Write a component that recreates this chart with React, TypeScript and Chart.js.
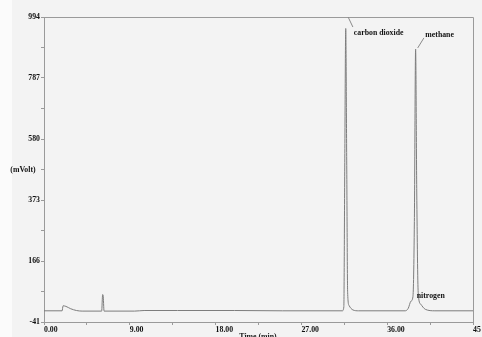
import React, { useEffect, useRef } from "react";
import { Chart, registerables } from "chart.js";

Chart.register(...registerables);

// Chromatogram trace (time in min, signal in mVolt)
const times = [
  0, 1.9, 2.0, 2.3, 2.8, 3.4, 4.0, 6.05, 6.15, 6.2, 6.3, 9.5, 10.5, 14, 20, 25,
  31.3, 31.45, 31.55, 31.65, 31.75, 31.85, 32.0, 32.4, 33.0,
  37.9, 38.2, 38.5, 38.7, 38.85, 38.98, 39.1, 39.25, 39.5, 40.0, 41.0, 45,
];
const signal = [
  -3, -3, 14, 12, 4, -2, -4, -4, 52, 50, -4, -4, -2, -2, -2, -3,
  -3, 10, 500, 955, 520, 60, 15, 0, -3,
  -3, 5, 30, 45, 300, 885, 400, 60, 20, 2, -3, -3,
];

// Axis ticks
const xMajorTicks = [0, 9, 18, 27, 36, 45];
const xMinorTicks = [4.5, 13.5, 22.5, 31.5, 40.5];
const xTickLabels = ["0.00", "9.00", "18.00", "27.00", "36.00", "45"];
const yMajorTicks = [-41, 166, 373, 580, 787, 994];
const yMinorTicks = [62.5, 269.5, 476.5, 683.5, 890.5];
const yTickLabels = ["-41", "166", "373", "580", "787", "994"];

// Peak annotations
const peakNames = ["carbon dioxide", "methane", "nitrogen"];
const peakLabelTimes = [32.5, 40.0, 39.1];
const peakLabelValues = [940, 933, 47];
// leader lines: from (time, value) to (time, value)
const leaderFromTimes = [31.9, 39.2];
const leaderFromValues = [994, 889];
const leaderToTimes = [32.4, 39.85];
const leaderToValues = [960, 923];

const yTitle = "(mVolt)";
const xTitle = "Time (min)";

const FONT = "'Liberation Serif', 'DejaVu Serif', serif";
const FS = 7.8;

export default function App() {
  const ref = useRef<HTMLCanvasElement | null>(null);

  useEffect(() => {
    document.body.style.margin = "0";
    document.body.style.background = "#f3f3f3";
    const canvas = ref.current;
    if (!canvas) return;

    const decor = {
      id: "decor",
      beforeDraw(chart: any) {
        const ctx = chart.ctx;
        ctx.save();
        ctx.fillStyle = "#f3f3f3";
        ctx.fillRect(0, 0, chart.width, chart.height);
        ctx.fillStyle = "#fbfbfb";
        ctx.fillRect(0, 0, 12, chart.height);
        ctx.restore();
      },
      afterDraw(chart: any) {
        const ctx = chart.ctx;
        const { left, right, top, bottom } = chart.chartArea;
        const xs = chart.scales.x;
        const ys = chart.scales.y;
        ctx.save();
        ctx.strokeStyle = "#9a9a9a";
        ctx.lineWidth = 1;
        ctx.beginPath();
        ctx.moveTo(left, top + 0.5);
        ctx.lineTo(right + 0.5, top + 0.5);
        ctx.lineTo(right + 0.5, bottom + 3);
        ctx.stroke();
        // leader lines
        ctx.strokeStyle = "#8a8a8a";
        for (let i = 0; i < leaderFromTimes.length; i++) {
          ctx.beginPath();
          ctx.moveTo(xs.getPixelForValue(leaderFromTimes[i]), ys.getPixelForValue(leaderFromValues[i]));
          ctx.lineTo(xs.getPixelForValue(leaderToTimes[i]), ys.getPixelForValue(leaderToValues[i]));
          ctx.stroke();
        }
        ctx.fillStyle = "#111";
        ctx.font = `bold ${FS}px ${FONT}`;
        ctx.textAlign = "left";
        ctx.textBaseline = "middle";
        for (let i = 0; i < peakNames.length; i++) {
          ctx.fillText(peakNames[i], xs.getPixelForValue(peakLabelTimes[i]), ys.getPixelForValue(peakLabelValues[i]));
        }
        ctx.textAlign = "center";
        ctx.fillText(yTitle, 23, 170);
        ctx.textBaseline = "top";
        ctx.fillText(xTitle, 258, 333);
        ctx.restore();
      },
    };

    const chart = new Chart(canvas, {
      type: "line",
      data: {
        datasets: [
          {
            data: times.map((t, i) => ({ x: t, y: signal[i] })),
            borderColor: "#7d7d7d",
            borderWidth: 1,
            pointRadius: 0,
            cubicInterpolationMode: "monotone",
            fill: false,
          },
        ],
      },
      options: {
        animation: false,
        responsive: false,
        devicePixelRatio: 1,
        layout: { padding: { top: 17, right: 9, left: 0, bottom: 0 } },
        plugins: { legend: { display: false }, tooltip: { enabled: false }, title: { display: false } },
        scales: {
          x: {
            type: "linear",
            min: 0,
            max: 45,
            afterBuildTicks(scale: any) {
              scale.ticks = [...xMajorTicks, ...xMinorTicks]
                .sort((a, b) => a - b)
                .map((v) => ({ value: v }));
            },
            afterFit(scale: any) {
              scale.height = 15;
            },
            grid: {
              drawOnChartArea: false,
              drawTicks: true,
              tickLength: 3,
              color: "#9a9a9a",
            },
            border: { display: true, color: "#9a9a9a" },
            ticks: {
              autoSkip: false,
              maxRotation: 0,
              minRotation: 0,
              align: "start",
              padding: 0,
              color: "#111",
              font: { family: FONT, size: FS, weight: "bold" },
              callback(value: any) {
                const idx = xMajorTicks.indexOf(Number(value));
                return idx >= 0 ? xTickLabels[idx] : "";
              },
            },
          },
          y: {
            type: "linear",
            min: -41,
            max: 994,
            afterBuildTicks(scale: any) {
              scale.ticks = [...yMajorTicks, ...yMinorTicks]
                .sort((a, b) => a - b)
                .map((v) => ({ value: v }));
            },
            afterFit(scale: any) {
              scale.width = 44;
            },
            grid: {
              drawOnChartArea: false,
              drawTicks: true,
              tickLength: 3,
              color: "#9a9a9a",
            },
            border: { display: true, color: "#9a9a9a" },
            ticks: {
              autoSkip: false,
              padding: 1,
              color: "#111",
              font: { family: FONT, size: FS, weight: "bold" },
              callback(value: any) {
                const idx = yMajorTicks.indexOf(Number(value));
                return idx >= 0 ? yTickLabels[idx] : "";
              },
            },
          },
        },
      },
      plugins: [decor],
    } as any);

    return () => chart.destroy();
  }, []);

  return <canvas ref={ref} width={482} height={337} style={{ display: "block" }} />;
}
